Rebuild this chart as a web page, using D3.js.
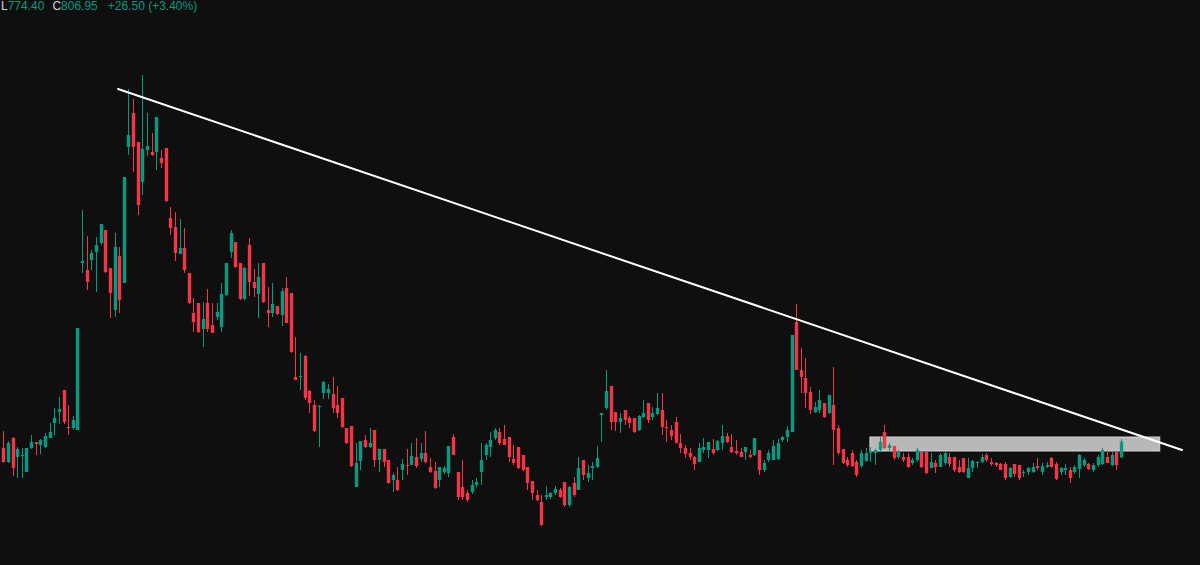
<!DOCTYPE html>
<html><head><meta charset="utf-8">
<script src="https://cdn.jsdelivr.net/npm/d3@7/dist/d3.min.js"></script>
<style>html,body{margin:0;padding:0;background:#0f0f0f;overflow:hidden}</style>
</head><body><svg id="c" width="1200" height="565"></svg>
<script>
const opens = [
794,766,814,776,778,746,794,806,800,796,
814,844,866,910,836,834,830,1164,1150,1170,
1186,1204,1230,1154,1070,1178,1124,1396,1464,1406,
1326,1390,1386,1386,1374,1394,1254,1236,1182,1194,
1144,1064,1084,1032,1084,1040,1056,1036,1100,1186,
1206,1164,1092,1200,1126,1102,1164,1070,1064,1078,
1060,1114,1104,936,936,978,908,880,876,904,
904,902,880,894,834,838,716,768,810,796,
830,770,792,770,730,730,750,760,760,776,
772,784,756,748,730,746,744,816,746,716,
704,706,720,746,780,796,814,826,812,816,
772,796,780,756,728,700,686,696,696,704,
710,726,680,724,710,770,734,754,756,860,
874,918,866,846,870,854,854,830,856,884,
856,862,870,836,830,846,804,794,784,776,
766,790,790,792,790,804,818,796,788,786,
786,780,780,790,750,770,770,772,810,816,
826,1046,950,934,906,866,870,884,864,880,
834,792,770,784,766,758,768,784,784,790,
826,794,798,776,776,776,764,770,786,786,
754,764,756,764,776,776,756,774,734,754,
764,766,780,766,764,762,762,736,762,760,
744,746,746,758,746,756,774,762,746,750,
750,746,752,760,762,750,760,762,776,760,
786,775];
const highs = [
828,808,816,796,794,794,820,806,812,824,
844,874,896,910,880,858,1034,1270,1218,1190,
1216,1242,1230,1154,1224,1196,1336,1512,1492,1406,
1540,1464,1424,1456,1390,1394,1276,1266,1252,1234,
1144,1094,1084,1086,1112,1084,1084,1124,1164,1230,
1206,1164,1156,1214,1152,1164,1164,1116,1124,1078,
1114,1136,1104,1016,984,980,910,890,880,928,
922,936,918,894,834,838,804,808,820,834,
830,792,792,770,744,756,772,792,804,814,
804,828,774,766,756,758,798,822,746,770,
710,730,734,804,804,826,834,834,840,816,
800,796,780,756,728,710,700,718,706,718,
714,726,718,736,776,770,760,766,798,864,
950,918,866,864,870,858,854,860,890,884,
876,904,904,850,840,856,822,800,794,778,
804,814,806,812,810,840,824,822,810,794,
796,790,814,790,770,790,810,812,818,838,
1020,1082,994,974,916,886,910,884,900,956,
840,792,776,790,770,790,794,796,792,816,
840,804,798,790,784,784,774,794,786,786,
784,770,784,786,784,776,770,774,774,770,
768,782,784,774,766,764,766,756,762,760,
750,756,764,774,764,766,776,766,756,762,
756,760,782,774,764,764,780,794,790,786,
786,812];
const lows = [
764,764,738,734,734,746,792,780,782,794,
814,820,842,842,820,830,830,1144,1110,1150,
1106,1200,1144,1054,1056,1064,1124,1380,1346,1260,
1300,1378,1378,1350,1354,1286,1220,1168,1182,1144,
1082,1026,1024,996,1026,1024,1050,1026,1098,1174,
1154,1090,1090,1098,1096,1054,1084,1036,1056,1060,
1038,1044,984,930,910,890,864,826,796,892,
892,864,854,834,802,756,716,750,794,794,
756,746,756,722,706,708,730,740,760,754,
766,764,744,712,716,742,736,780,690,690,
686,702,716,720,770,776,810,800,800,766,
760,752,748,710,690,688,638,690,692,700,
694,676,676,696,710,730,726,730,754,806,
870,830,828,824,840,834,824,828,854,844,
850,860,820,806,810,804,784,774,770,750,
766,784,774,780,788,790,804,784,780,776,
770,774,778,740,746,766,770,770,806,806,
826,950,904,874,862,864,864,854,862,760,
780,762,756,756,736,754,766,766,760,788,
792,786,770,772,766,754,760,766,754,742,
754,744,756,760,756,746,744,744,734,746,
754,764,766,758,756,750,730,734,736,730,
736,740,744,750,740,754,754,730,740,740,
724,742,734,756,750,746,756,760,764,758,
750,774.4];
const closes = [
766,804,754,792,780,794,806,802,810,818,
826,854,872,846,834,850,1034,1168,1126,1184,
1200,1242,1146,1104,1196,1090,1336,1420,1396,1280,
1392,1398,1380,1456,1364,1288,1234,1184,1194,1150,
1084,1046,1026,1052,1032,1024,1066,1102,1164,1224,
1156,1092,1154,1126,1114,1136,1086,1064,1082,1062,
1108,1044,986,930,938,894,884,828,878,926,
912,874,864,836,804,758,764,808,796,804,
770,792,766,724,740,710,762,758,778,758,
784,766,746,714,756,754,798,780,696,696,
690,720,726,770,800,810,830,804,800,776,
764,754,750,724,704,690,640,700,704,712,
696,680,716,700,754,740,744,758,774,864,
908,846,846,854,850,844,826,858,864,850,
864,874,836,834,818,804,794,782,776,762,
794,796,806,784,808,818,806,786,784,776,
796,776,814,750,764,784,798,804,816,830,
1020,950,936,904,870,876,890,856,900,830,
784,764,760,758,740,784,784,786,790,806,
794,800,774,786,770,756,770,790,756,744,
766,756,780,784,762,750,746,746,754,768,
766,776,770,762,760,750,734,754,742,734,
746,754,756,754,758,760,756,732,754,754,
734,756,780,770,752,760,776,790,764,780,
760,806.95];

// trendline anchors (bar index, price) and zone (bar index range, price range)
const trendIdx = [25.74, 255.2];
const trendPrice = [1512, 790];
const zoneIdx = [187.9, 250.4];
const zonePrice = [788, 816];

const legendParts = [
  {t:"L", c:"label"}, {t:"774.40", c:"up"},
  {t:"C", c:"label", gap:8}, {t:"806.95", c:"up"},
  {t:"+26.50 (+3.40%)", c:"up", gap:10}
];

const W = 1200, H = 565;
const UP = "#089981", DOWN = "#f23645", BG = "#0f0f0f";
const svg = d3.select("#c");
svg.append("rect").attr("width", W).attr("height", H).attr("fill", BG);

const n = opens.length;
const idx = d3.range(1, n + 1);
const x = d3.scaleLinear().domain([1, 242]).range([3.3, 1120.8]);
const y = d3.scaleLinear().domain([640, 1540]).range([525, 75]);

// zone rectangle
svg.append("rect")
  .attr("x", x(zoneIdx[0])).attr("width", x(zoneIdx[1]) - x(zoneIdx[0]))
  .attr("y", y(zonePrice[1])).attr("height", y(zonePrice[0]) - y(zonePrice[1]))
  .attr("fill", "#b8b8b8").attr("stroke", "#d6d6d6").attr("stroke-width", 1);

const bw = 3.4;
const g = svg.append("g");
const candles = g.selectAll("g.c").data(idx).join("g").attr("class", "c");
candles.append("line")
  .attr("x1", i => Math.round(x(i)) + 0.5).attr("x2", i => Math.round(x(i)) + 0.5)
  .attr("y1", i => y(highs[i-1])).attr("y2", i => y(lows[i-1]))
  .attr("stroke", i => closes[i-1] >= opens[i-1] ? UP : DOWN).attr("stroke-width", 1);
candles.append("rect")
  .attr("x", i => Math.round(x(i)) + 0.5 - bw / 2)
  .attr("width", bw)
  .attr("y", i => y(Math.max(opens[i-1], closes[i-1])))
  .attr("height", i => Math.max(1, Math.abs(y(opens[i-1]) - y(closes[i-1]))))
  .attr("fill", i => closes[i-1] >= opens[i-1] ? UP : DOWN);

// trendline
svg.append("line")
  .attr("x1", x(trendIdx[0])).attr("y1", y(trendPrice[0]))
  .attr("x2", x(trendIdx[1])).attr("y2", y(trendPrice[1]))
  .attr("stroke", "#ffffff").attr("stroke-width", 2).attr("stroke-linecap", "round");

// legend text
const txt = svg.append("text").attr("x", 1).attr("y", 10)
  .attr("font-family", "'Liberation Sans', Arial, sans-serif").attr("font-size", 12);
legendParts.forEach(p => {
  txt.append("tspan").attr("dx", p.gap || 0)
    .attr("fill", p.c === "label" ? "#d1d4dc" : UP).text(p.t);
});
</script></body></html>
